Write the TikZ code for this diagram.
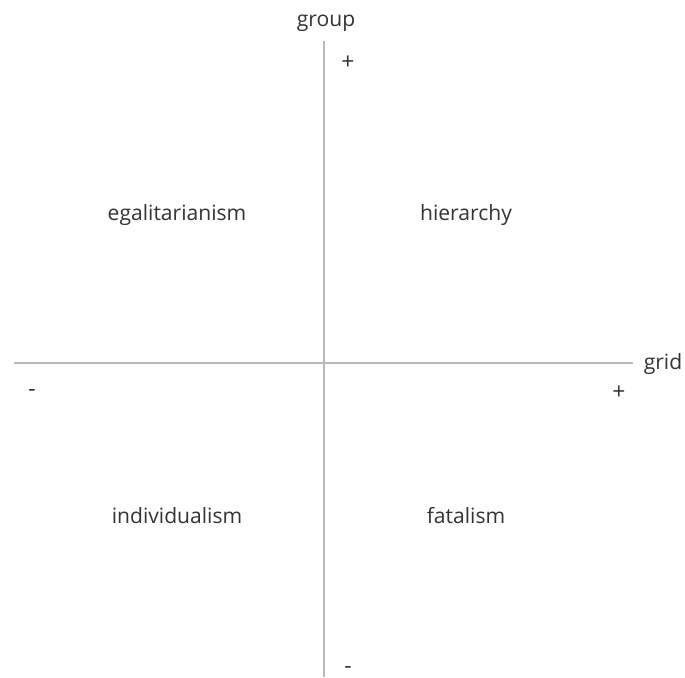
\documentclass[tikz,border=0pt]{standalone}
\usepackage{fontspec}
\setmainfont{Open Sans}
\usepackage{tikz}
\usetikzlibrary{positioning}

\tikzset{
  axis/.style={draw=gray!55, line width=0.6pt},
  quad/.style={font=\fontsize{12}{14}\selectfont, text=black!80},
  sign/.style={font=\fontsize{13}{15}\selectfont, text=black!80}
}

\begin{document}
\begin{tikzpicture}[x=0.02cm, y=-0.02cm]
  \useasboundingbox (0,0) rectangle (685,677);

  % axes ends
  \coordinate (west) at (14,363);
  \coordinate (east) at (633,363);
  \coordinate (north) at (324,41);
  \coordinate (south) at (324,677);

  \draw[axis] (west) -- (east);
  \draw[axis] (north) -- (south);

  % axis names
  \node[quad] (group) at (326,23) {group};
  \node[quad] (grid) at (663,364) {grid};

  % signs
  \node[sign] (gplus) at (348,63) {+};
  \node[sign] (gminus) at (348,670) {-};
  \node[sign] (xminus) at (32,393) {-};
  \node[sign] (xplus) at (619,393) {+};

  % quadrants
  \node[quad] (egal) at (177,215) {egalitarianism};
  \node[quad] (hier) at (466,215) {hierarchy};
  \node[quad] (indiv) at (177,516) {individualism};
  \node[quad] (fatal) at (466,516) {fatalism};
\end{tikzpicture}
\end{document}
